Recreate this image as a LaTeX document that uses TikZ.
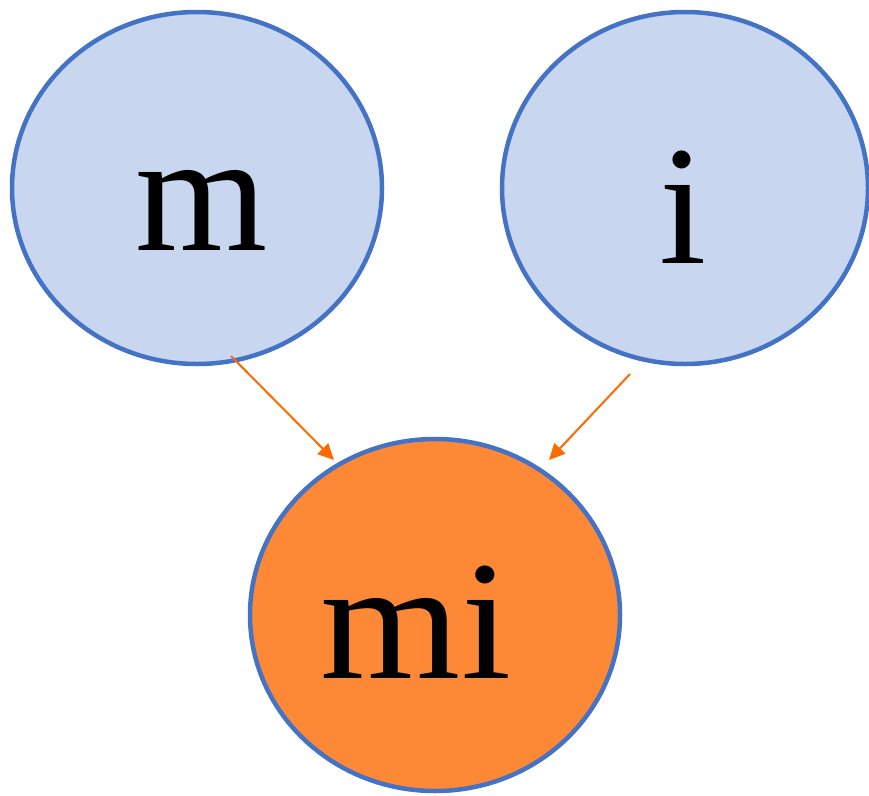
\documentclass[tikz,border=0pt]{standalone}
\usepackage{fontspec}
\setmainfont{Liberation Serif}
\usetikzlibrary{shapes.geometric,arrows.meta}
\definecolor{lightblue}{HTML}{C8D6EF}
\definecolor{bordblue}{HTML}{4472C4}
\definecolor{fillorange}{HTML}{FD8835}
\definecolor{arroworange}{HTML}{FF6A00}
\begin{document}
\begin{tikzpicture}[x=1pt,y=-1pt,
  blob/.style={ellipse,draw=bordblue,line width=4.5pt,inner sep=0pt},
  bluebl/.style={blob,fill=lightblue},
  orangebl/.style={blob,fill=fillorange},
  label/.style={inner sep=0pt,anchor=base,font=\fontsize{170}{170}\selectfont},
  link/.style={draw=arroworange,line width=2pt,-{Triangle[length=16pt,width=15pt]}}]
\useasboundingbox (0,0) rectangle (869,795);
\node[bluebl,minimum width=370pt,minimum height=352pt] (m) at (197,188) {};
\node[bluebl,minimum width=366pt,minimum height=352pt] (i) at (685,188) {};
\node[orangebl,minimum width=370pt,minimum height=352pt] (mi) at (435,615) {};
\node[label] (mt) at (202,250) {m};
\node[label] (it) at (683,263) {i};
\node[label,xscale=1.06] (mit) at (416,678) {mi};
\coordinate (s1) at (231,356);
\coordinate (e1) at (334,460);
\coordinate (s2) at (630,374);
\coordinate (e2) at (549,460);
\draw[link] (s1) -- (e1);
\draw[link] (s2) -- (e2);
\end{tikzpicture}
\end{document}
